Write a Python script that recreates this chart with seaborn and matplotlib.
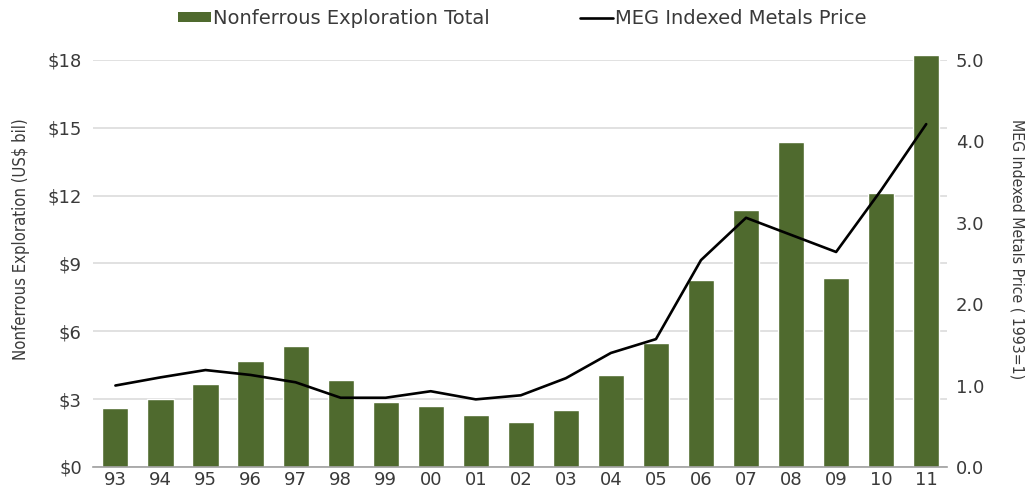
import numpy as np
import pandas as pd
import seaborn as sns
import matplotlib.pyplot as plt
from matplotlib.patches import Patch
from matplotlib.lines import Line2D
from matplotlib.ticker import FixedLocator

# data
years = ['93', '94', '95', '96', '97', '98', '99', '00', '01', '02',
         '03', '04', '05', '06', '07', '08', '09', '10', '11']
exploration = [2.6, 3.0, 3.67, 4.69, 5.35, 3.85, 2.88, 2.7, 2.3, 2.0,
               2.52, 4.07, 5.49, 8.27, 11.37, 14.38, 8.36, 12.12, 18.2]
metals_price = [1.0, 1.1, 1.19, 1.13, 1.04, 0.85, 0.85, 0.93, 0.83, 0.88,
                1.09, 1.40, 1.57, 2.54, 3.06, 2.85, 2.64, 3.40, 4.21]

bar_color = '#4f6a2e'
text_color = '#3a3a3a'

sns.set_style('white')
plt.rcParams['font.family'] = ['DejaVu Sans']

df = pd.DataFrame({'year': years, 'expl': exploration, 'price': metals_price,
                   'pos': np.arange(len(years))})

fig = plt.figure(figsize=(10.32, 4.9), dpi=100)
ax = fig.add_axes([0.090, 0.047, 0.828, 0.831])

sns.barplot(data=df, x='year', y='expl', color=bar_color, width=0.58,
            saturation=1, ax=ax, zorder=2)
for p in ax.patches:
    p.set_clip_on(False)
ax.set_xlim(-0.5, len(years) - 0.53)
ax.set_ylim(0, 18)
ax.set_yticks(np.arange(0, 19, 3))
ax.set_yticklabels([f'${v}' for v in range(0, 19, 3)])
ax.yaxis.grid(True, color='#dcdcdc', linewidth=1.2, zorder=0)
ax.set_axisbelow(True)

ax.set_xlabel('')
ax.set_ylabel('Nonferrous Exploration (US$ bil)', fontsize=12,
              fontstretch='condensed', color=text_color, va='center')
ax.yaxis.set_label_coords(-0.084, 0.56)

for s in ['left', 'right', 'top']:
    ax.spines[s].set_visible(False)
ax.spines['bottom'].set_color('#a0a0a0')
ax.spines['bottom'].set_linewidth(1.2)

ax.tick_params(axis='x', which='major', length=0, labelsize=13,
               labelcolor=text_color, pad=3)
ax.xaxis.set_minor_locator(FixedLocator(np.arange(-0.5, len(years), 1)))
ax.tick_params(axis='x', which='minor', length=5, color='#a0a0a0', width=1.2)
ax.tick_params(axis='y', length=0, labelsize=13, labelcolor=text_color, pad=8)

ax2 = ax.twinx()
sns.lineplot(data=df, x='pos', y='price', color='black', linewidth=1.9,
             ax=ax2, zorder=3)
ax2.set_ylim(0, 5)
ax2.set_yticks(np.arange(0, 5.1, 1))
ax2.set_yticklabels([f'{v:.1f}' for v in np.arange(0, 5.1, 1)])
ax2.set_xlim(-0.5, len(years) - 0.53)
ax2.tick_params(axis='y', length=0, labelsize=13, labelcolor=text_color, pad=6)
ax2.set_ylabel('MEG Indexed Metals Price ( 1993=1)', fontsize=11.3,
               fontstretch='condensed', color=text_color, rotation=270,
               va='center')
ax2.yaxis.set_label_coords(1.082, 0.535)
for s in ['left', 'right', 'top', 'bottom']:
    ax2.spines[s].set_visible(False)

handles = [Patch(facecolor=bar_color, edgecolor='none'),
           Line2D([0], [0], color='black', linewidth=1.9)]
labels = ['Nonferrous Exploration Total', 'MEG Indexed Metals Price']
fig.legend(handles, labels, loc='center', bbox_to_anchor=(0.506, 0.962),
           ncol=2, frameon=False, fontsize=14, handlelength=1.7,
           handleheight=0.45, handletextpad=0.1, columnspacing=4.6,
           labelcolor=text_color)

fig.savefig('out.png', dpi=100)
